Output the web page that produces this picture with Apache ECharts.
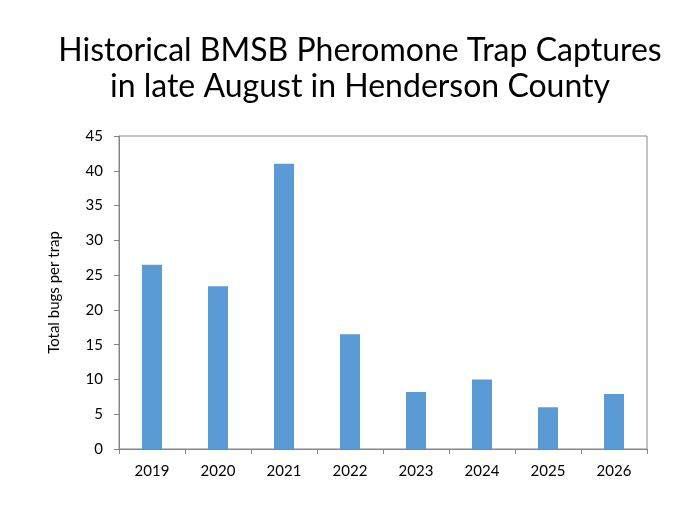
<!doctype html>
<html>
  <head>
    <meta charset="utf-8">
    <title>BMSB trap captures</title>
    <script src="https://cdn.jsdelivr.net/npm/echarts@6/dist/echarts.min.js"></script>
    <style>
      html, body { margin: 0; padding: 0; background: #fff; }
      #chart { width: 700px; height: 525px; }
    </style>
  </head>
  <body>
    <div id="chart"></div>
    <script type="text/javascript">
      // data
      var years = ['2019', '2020', '2021', '2022', '2023', '2024', '2025', '2026'];
      var bugsPerTrap = [26.5, 23.4, 41, 16.5, 8.2, 10, 6, 7.9];

      var myChart = echarts.init(document.getElementById('chart'));
      var font = 'Lato, "Open Sans", sans-serif';

      var option = {
        title: {
          text: 'Historical BMSB Pheromone Trap Captures\nin late August in Henderson County',
          left: 355,
          top: 28,
          textAlign: 'center',
          textStyle: {
            fontFamily: font,
            fontSize: 32,
            fontWeight: 'normal',
            color: '#000',
            lineHeight: 36
          }
        },
        grid: {
          left: 119,
          right: 53,
          top: 136,
          bottom: 76,
          show: true,
          borderColor: '#868686',
          borderWidth: 1
        },
        xAxis: {
          type: 'category',
          data: years,
          axisLine: { lineStyle: { color: '#868686' } },
          axisTick: { show: true, length: 5, lineStyle: { color: '#868686' } },
          axisLabel: { fontFamily: font, fontSize: 15, color: '#000', margin: 15 }
        },
        yAxis: {
          type: 'value',
          min: 0,
          max: 45,
          interval: 5,
          name: 'Total bugs per trap',
          nameLocation: 'middle',
          nameGap: 57,
          nameTextStyle: { fontFamily: font, fontSize: 15, color: '#000' },
          axisLine: { show: true, lineStyle: { color: '#868686' } },
          axisTick: { show: true, length: 5, lineStyle: { color: '#868686' } },
          splitLine: { show: false },
          axisLabel: { fontFamily: font, fontSize: 15, color: '#000', margin: 16 }
        },
        series: [
          {
            type: 'bar',
            data: bugsPerTrap,
            barWidth: 20,
            itemStyle: { color: '#5B9BD5' }
          }
        ]
      };
      myChart.setOption(option);
    </script>
  </body>
</html>
